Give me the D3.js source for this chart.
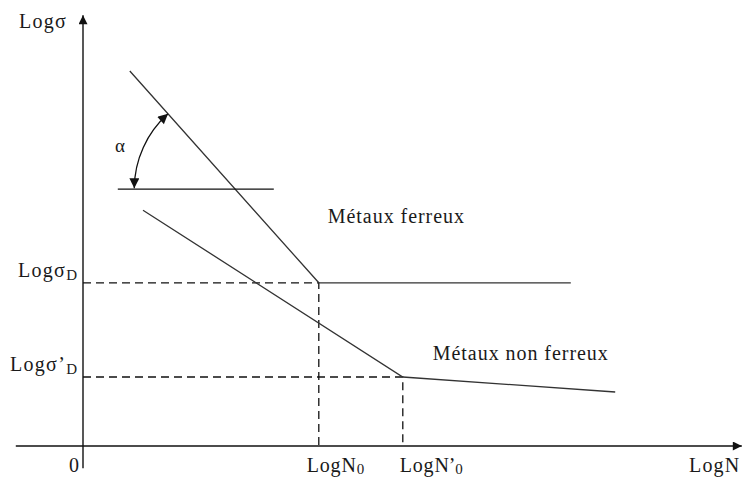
<!DOCTYPE html>
<html>
<head>
<meta charset="utf-8">
<script src="https://cdn.jsdelivr.net/npm/d3@7"></script>
<style>
  html, body { margin: 0; padding: 0; background: #fff; }
  svg { display: block; }
  text { font-family: "Liberation Serif", "DejaVu Serif", serif; fill: #1a1a1a; }
</style>
</head>
<body>
<script>
// Wöhler-type diagram: log stress vs log cycles, in abstract log units
const ferrousCurve = [[0.78, 6.25], [3.93, 2.72], [8.13, 2.72]];
const nonFerrousCurve = [[1.0, 3.93], [5.33, 1.15], [8.87, 0.9]];
const referenceLine = [[0.58, 4.28], [3.18, 4.28]];
const enduranceLimits = [
  { n: 3.93, s: 2.72, nLabel: "LogN", nSub: "0", sLabel: "Logσ", sSub: "D", nShift: -12 },
  { n: 5.33, s: 1.15, nLabel: "LogN’", nSub: "0", sLabel: "Logσ’", sSub: "D", nShift: -3 }
];
const curveLabels = [
  { text: "Métaux ferreux", n: 4.08, s: 3.72 },
  { text: "Métaux non ferreux", n: 5.83, s: 1.43 }
];
const xAxisExtent = [-1.12, 10.98];
const yAxisExtent = [-0.37, 7.18];

const width = 742, height = 477;
const x = d3.scaleLinear().domain([0, 11]).range([83, 743]);
const y = d3.scaleLinear().domain([0, 7]).range([446, 26]);

const svg = d3.select("body").append("svg")
  .attr("width", width).attr("height", height);

const defs = svg.append("defs");
defs.append("marker")
  .attr("id", "axisHead")
  .attr("viewBox", "0 0 10 10").attr("refX", 10).attr("refY", 5)
  .attr("markerWidth", 10).attr("markerHeight", 9)
  .attr("markerUnits", "userSpaceOnUse")
  .attr("orient", "auto")
  .append("path").attr("d", "M0,0 L10,5 L0,10 Z").attr("fill", "#111");
defs.append("marker")
  .attr("id", "arcHead")
  .attr("viewBox", "0 0 10 10").attr("refX", 10).attr("refY", 5)
  .attr("markerWidth", 11).attr("markerHeight", 10)
  .attr("markerUnits", "userSpaceOnUse")
  .attr("orient", "auto-start-reverse")
  .append("path").attr("d", "M0,0 L10,5 L0,10 Z").attr("fill", "#111");

const line = d3.line().x(d => x(d[0])).y(d => y(d[1]));

// Axes with arrowheads
svg.append("line")
  .attr("x1", x(xAxisExtent[0])).attr("y1", y(0))
  .attr("x2", x(xAxisExtent[1])).attr("y2", y(0))
  .attr("stroke", "#111").attr("stroke-width", 1.4)
  .attr("marker-end", "url(#axisHead)");
svg.append("line")
  .attr("x1", x(0)).attr("y1", y(yAxisExtent[0]))
  .attr("x2", x(0)).attr("y2", y(yAxisExtent[1]))
  .attr("stroke", "#111").attr("stroke-width", 1.4)
  .attr("marker-end", "url(#axisHead)");

// Dashed guides to the endurance limits
enduranceLimits.forEach(d => {
  svg.append("path")
    .attr("d", line([[0, d.s], [d.n, d.s], [d.n, 0]]))
    .attr("fill", "none").attr("stroke", "#111").attr("stroke-width", 1.3)
    .attr("stroke-dasharray", "8,5");
});

// Curves
[ferrousCurve, nonFerrousCurve].forEach(c => {
  svg.append("path").attr("d", line(c))
    .attr("fill", "none").attr("stroke", "#333").attr("stroke-width", 1.3);
});
svg.append("path").attr("d", line(referenceLine))
  .attr("fill", "none").attr("stroke", "#111").attr("stroke-width", 1.3);

// Slope angle α between the reference line and the ferrous branch
const p0 = ferrousCurve[0], p1 = ferrousCurve[1];
const slope = (p1[1] - p0[1]) / (p1[0] - p0[0]);
const hitN = p0[0] + (referenceLine[0][1] - p0[1]) / slope;
const cx = x(hitN), cy = y(referenceLine[0][1]);
const dx = x(p0[0]) - x(p1[0]), dy = y(p0[1]) - y(p1[1]);
const len = Math.hypot(dx, dy);
const r = 101;
const startPt = [cx - r, cy - 1];
const endPt = [cx + dx / len * r, cy + dy / len * r];
svg.append("path")
  .attr("d", `M${startPt[0]},${startPt[1]} A${r},${r} 0 0 1 ${endPt[0]},${endPt[1]}`)
  .attr("fill", "none").attr("stroke", "#111").attr("stroke-width", 1.3)
  .attr("marker-start", "url(#arcHead)")
  .attr("marker-end", "url(#arcHead)");
svg.append("text").attr("x", 115).attr("y", 152)
  .attr("font-size", 19).text("α");

// Axis titles
svg.append("text").attr("x", 19).attr("y", 28).attr("font-size", 20)
  .attr("letter-spacing", 1.3).text("Logσ");
svg.append("text").attr("x", 689).attr("y", 472).attr("font-size", 20)
  .attr("letter-spacing", 1.2).text("LogN");
svg.append("text").attr("x", x(0) - 4).attr("y", 472)
  .attr("text-anchor", "end").attr("font-size", 20).text("0");

// Endurance-limit labels with subscripts
enduranceLimits.forEach(d => {
  const ty = svg.append("text").attr("x", x(0) - 6).attr("y", y(d.s) - 6)
    .attr("text-anchor", "end").attr("font-size", 20);
  ty.append("tspan").attr("letter-spacing", 1.3).text(d.sLabel);
  ty.append("tspan").attr("font-size", 15).attr("dy", 3).text(d.sSub);

  const tx = svg.append("text").attr("x", x(d.n) + d.nShift)
    .attr("y", 472).attr("font-size", 20);
  tx.append("tspan").attr("letter-spacing", 0.8).text(d.nLabel.replace("’", ""));
  if (d.nLabel.includes("’")) tx.append("tspan").attr("dx", -1).text("’");
  tx.append("tspan").attr("font-size", 15).attr("dy", 2).text(d.nSub);
});

// Curve labels
curveLabels.forEach(d => {
  svg.append("text").attr("x", x(d.n)).attr("y", y(d.s))
    .attr("font-size", 20).attr("letter-spacing", 0.95).text(d.text);
});
</script>
</body>
</html>
